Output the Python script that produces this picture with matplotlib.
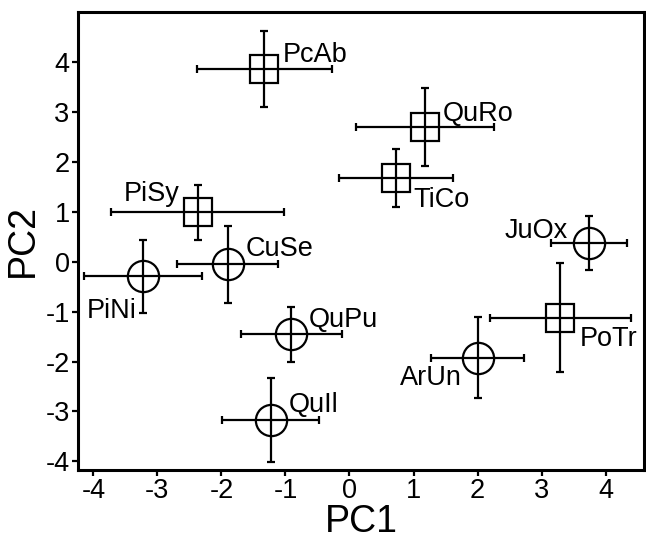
import matplotlib
matplotlib.use('Agg')
import matplotlib.pyplot as plt

# species codes and PCA scores (mean +/- error)
names = ['PcAb', 'QuRo', 'TiCo', 'PiSy', 'JuOx', 'CuSe', 'PiNi', 'QuPu', 'PoTr', 'ArUn', 'QuIl']
pc1 = [-1.33, 1.18, 0.72, -2.37, 3.74, -1.90, -3.22, -0.91, 3.29, 2.00, -1.23]
pc2 = [3.86, 2.69, 1.67, 0.99, 0.37, -0.05, -0.29, -1.45, -1.12, -1.92, -3.17]
pc1_err = [1.05, 1.08, 0.89, 1.35, 0.60, 0.79, 0.92, 0.79, 1.10, 0.72, 0.76]
pc2_err = [0.76, 0.78, 0.58, 0.55, 0.54, 0.77, 0.73, 0.55, 1.09, 0.82, 0.85]
group = ['sq', 'sq', 'sq', 'sq', 'ci', 'ci', 'ci', 'ci', 'sq', 'ci', 'ci']

ticks = [-4, -3, -2, -1, 0, 1, 2, 3, 4]

# label placement: (dx, dy) in pixels from the point, horizontal alignment
label_pos = {
    'PcAb': (18, 7, 'left'),
    'QuRo': (18, 6, 'left'),
    'TiCo': (18, -29, 'left'),
    'PiSy': (-18, 11, 'right'),
    'JuOx': (-21, 5, 'right'),
    'CuSe': (18, 8, 'left'),
    'PiNi': (-7, -42, 'right'),
    'QuPu': (18, 7, 'left'),
    'PoTr': (20, -28, 'left'),
    'ArUn': (-16, -27, 'right'),
    'QuIl': (18, 8, 'left'),
}

plt.rcParams['font.family'] = ['Liberation Sans', 'DejaVu Sans']
plt.rcParams['axes.unicode_minus'] = False

fig = plt.figure(figsize=(6.46, 5.42), dpi=100)
ax = fig.add_axes([0.1207, 0.133, 0.8763, 0.845])

for i in range(len(names)):
    if group[i] == 'sq':
        mk, ms = 's', 20
    else:
        mk, ms = 'o', 22.5
    ax.errorbar(pc1[i], pc2[i], xerr=pc1_err[i], yerr=pc2_err[i],
                fmt=mk, ms=ms, mfc='none', mec='black', mew=1.6,
                ecolor='black', elinewidth=1.6, capsize=3, capthick=1.6)
    dx, dy, ha = label_pos[names[i]]
    ax.annotate(names[i], (pc1[i], pc2[i]), xytext=(dx, dy),
                textcoords='offset pixels', ha=ha, va='baseline', fontsize=19.5)

ax.set_xlim(-4.24, 4.6)
ax.set_ylim(-4.17, 5.0)
ax.set_xticks(ticks)
ax.set_yticks(ticks)
ax.tick_params(direction='out', length=4, width=1.6, labelsize=19.5, pad=2)
for s in ax.spines.values():
    s.set_linewidth(2.2)

ax.set_xlabel('PC1', fontsize=27, labelpad=0)
ax.set_ylabel('PC2', fontsize=27, labelpad=3)

fig.savefig('out.png', dpi=100)
